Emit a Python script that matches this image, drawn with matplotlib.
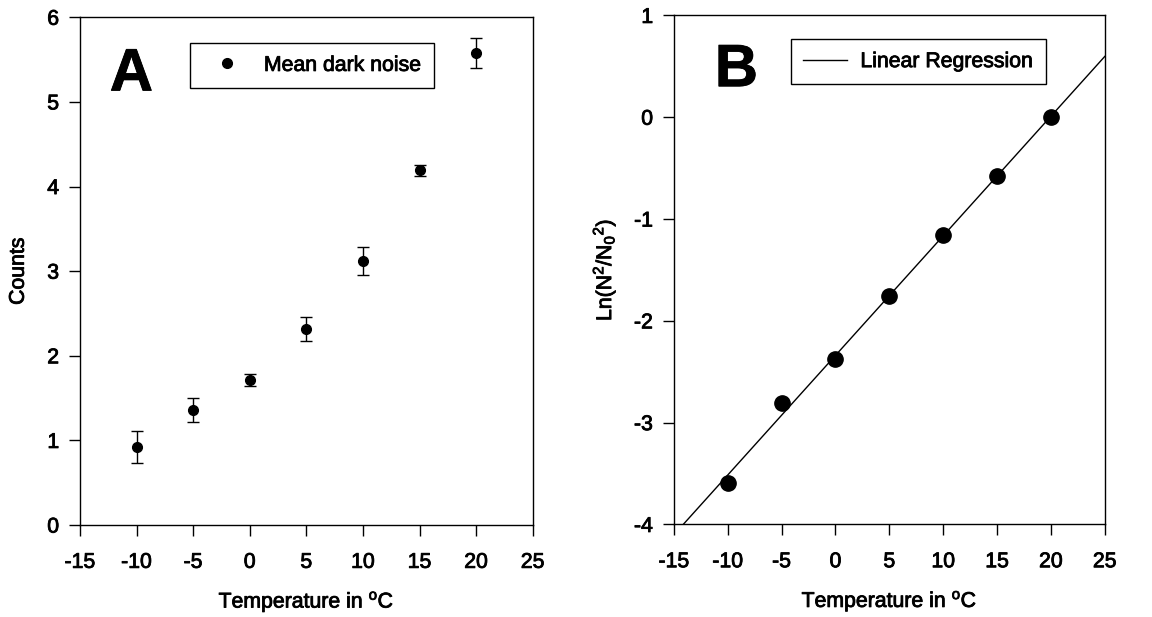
import numpy as np
import matplotlib
matplotlib.use("Agg")
import matplotlib.pyplot as plt
import matplotlib.patheffects as pe

plt.rcParams['font.family'] = ['Liberation Sans', 'DejaVu Sans']
plt.rcParams['mathtext.fontset'] = 'custom'
plt.rcParams['mathtext.rm'] = 'Liberation Sans'
plt.rcParams['mathtext.it'] = 'Liberation Sans'
plt.rcParams['axes.unicode_minus'] = False

# Temperatures (deg C)
temperature = [-10, -5, 0, 5, 10, 15, 20]

# Panel A: mean dark noise counts and their error bars
mean_counts = [0.92, 1.36, 1.71, 2.32, 3.12, 4.19, 5.58]
count_err = [0.19, 0.14, 0.07, 0.14, 0.17, 0.07, 0.18]

# Panel B: Ln(N^2/N0^2)
ln_ratio = [-3.59, -2.81, -2.37, -1.76, -1.155, -0.58, 0.0]

xticks = [-15, -10, -5, 0, 5, 10, 15, 20, 25]
yticks_a = [0, 1, 2, 3, 4, 5, 6]
yticks_b = [-4, -3, -2, -1, 0, 1]

FS = 15.3
heavy = [pe.withStroke(linewidth=0.6, foreground='black')]

fig = plt.figure(figsize=(11.52, 6.17), dpi=100)
ax_a = fig.add_axes([0.0694, 0.149, 0.393, 0.823])
ax_b = fig.add_axes([0.585, 0.150, 0.374, 0.825])

for ax in (ax_a, ax_b):
    ax.tick_params(direction='out', length=8, width=1.0, labelsize=FS)
    ax.tick_params(axis='x', pad=12)
    ax.tick_params(axis='y', pad=7)
    for sp in ax.spines.values():
        sp.set_linewidth(1.0)
    ax.set_xlim(-15, 25)
    ax.set_xticks(xticks)
    ax.set_xlabel(r'Temperature in $^\mathrm{o}$C', fontsize=FS, labelpad=13)

# Panel A
ax_a.errorbar(temperature, mean_counts, yerr=count_err, fmt='o', color='black',
              markersize=7, capsize=4.5, elinewidth=1.0, capthick=1.0)
ax_a.plot([], [], 'o', color='black', markersize=7, label='Mean dark noise')
ax_a.set_ylim(0, 6)
ax_a.set_yticks(yticks_a)
ax_a.set_ylabel('Counts', fontsize=FS, labelpad=14)
leg_a = ax_a.legend(loc='upper left', bbox_to_anchor=(0.243, 0.949), fontsize=FS,
                    frameon=True, fancybox=False, edgecolor='black', framealpha=1,
                    handlelength=2.28, handletextpad=0.6, borderpad=0.6,
                    borderaxespad=0)
leg_a.get_frame().set_linewidth(1.0)
ax_a.text(0.066, 0.856, 'A', transform=ax_a.transAxes, fontsize=43,
          fontweight='bold', va='baseline', ha='left', path_effects=heavy)

# Panel B
slope, intercept = np.polyfit(temperature, ln_ratio, 1)
xfit = np.array([-15, 25])
ax_b.plot(xfit, slope * xfit + intercept, color='black', linewidth=1.0,
          label='Linear Regression')
ax_b.plot(temperature, ln_ratio, 'o', color='black', markersize=11)
ax_b.set_ylim(-4, 1)
ax_b.set_yticks(yticks_b)
ax_b.set_ylabel(r'Ln(N$^2$/N$_0$$^2$)', fontsize=FS, labelpad=12)
leg_b = ax_b.legend(loc='upper left', bbox_to_anchor=(0.271, 0.953), fontsize=FS,
                    frameon=True, fancybox=False, edgecolor='black', framealpha=1,
                    handlelength=2.07, handletextpad=0.61, borderpad=0.6,
                    borderaxespad=0)
leg_b.get_frame().set_linewidth(1.0)
ax_b.text(0.095, 0.861, 'B', transform=ax_b.transAxes, fontsize=43,
          fontweight='bold', va='baseline', ha='left', path_effects=heavy)

# Slightly heavier strokes on all text, like a printed figure
for ax in (ax_a, ax_b):
    for t in ax.get_xticklabels() + ax.get_yticklabels():
        t.set_path_effects(heavy)
    ax.xaxis.label.set_path_effects(heavy)
    ax.yaxis.label.set_path_effects(heavy)
for leg in (leg_a, leg_b):
    for t in leg.get_texts():
        t.set_path_effects(heavy)

fig.savefig('out.png', dpi=100)
